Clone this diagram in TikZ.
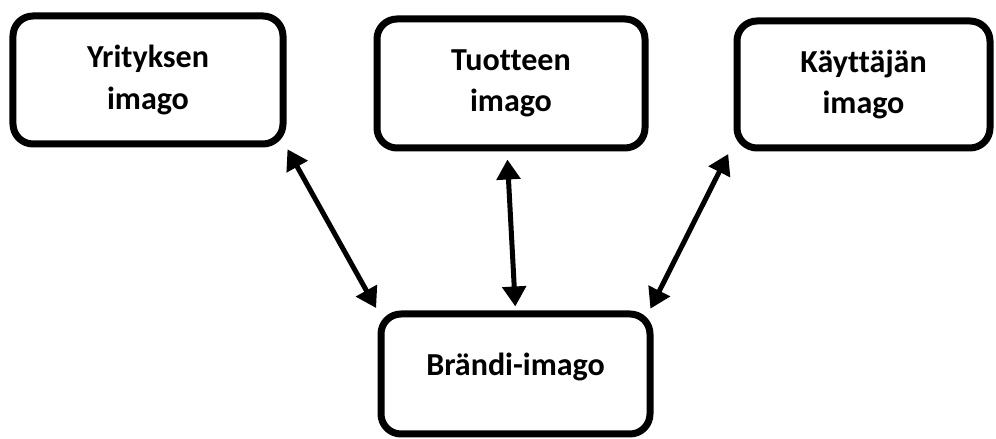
\documentclass[tikz,border=0pt]{standalone}
\usepackage{fontspec}
\setmainfont{Carlito}[Ligatures=NoCommon]
\usetikzlibrary{arrows.meta}

\tikzset{
	imagobox/.style={draw, line width=0.175cm, rounded corners=0.5cm, align=center,
		font=\bfseries\fontsize{22.8}{29.5}\selectfont},
	biarrow/.style={line width=0.125cm, {Triangle[length=0.5cm, width=0.58cm]}-{Triangle[length=0.5cm, width=0.58cm]}}
}

\begin{document}
\begin{tikzpicture}
			%%%%% START %%%%%
			
			\useasboundingbox (0, 0) rectangle (24.9, 10.975);
			
			\node[imagobox, minimum width=6.75cm, minimum height=3.2cm] (yritys) at (3.7, 8.975) {Yrityksen\\imago};
			\node[imagobox, minimum width=6.7cm, minimum height=3.225cm] (tuote) at (12.775, 8.8875) {Tuotteen\\imago};
			\node[imagobox, minimum width=6.325cm, minimum height=3.175cm] (kayttaja) at (21.5875, 8.8625) {Käyttäjän\\imago};
			
			\node[imagobox, minimum width=6.725cm, minimum height=3.0cm, text depth=0.5cm] (brandi) at (12.8875, 1.625) {Brändi-imago};
			
			\draw[biarrow, shorten <=0.05cm, shorten >=0.07cm] (yritys.south east) -- (brandi.north west);
			\draw[biarrow, shorten <=0.2cm, shorten >=0.1cm] ([xshift=-0.1cm]tuote.south) -- (brandi.north);
			\draw[biarrow, shorten <=0.07cm, shorten >=0.05cm] ([xshift=-0.1cm]kayttaja.south west) -- ([xshift=-0.1cm]brandi.north east);
			
			%%%%% END %%%%%
\end{tikzpicture}
\end{document}
